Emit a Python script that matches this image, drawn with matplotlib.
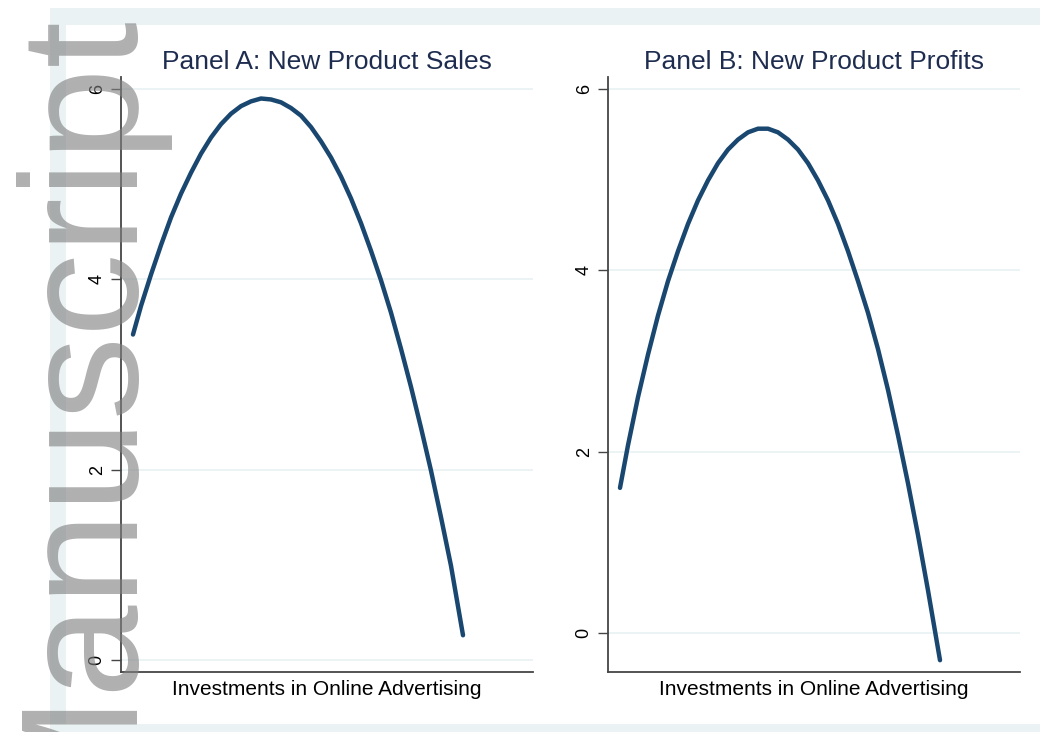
import matplotlib
matplotlib.use("Agg")
import matplotlib.pyplot as plt
from matplotlib.patches import Rectangle

# Panel A: new product sales vs. investment (x in arbitrary investment units)
sales_x = [12, 20, 30, 40, 50, 60, 70, 80, 90, 100, 110, 120, 130, 140, 150, 160, 170,
           180, 190, 200, 210, 220, 230, 240, 250, 260, 270, 280, 290, 300, 310, 320, 330, 342]
sales_y = [3.42, 3.72, 4.05, 4.36, 4.65, 4.90, 5.12, 5.32, 5.49, 5.63, 5.74, 5.82, 5.87, 5.90,
           5.89, 5.86, 5.80, 5.72, 5.60, 5.45, 5.28, 5.08, 4.85, 4.59, 4.30, 3.99, 3.65, 3.27,
           2.87, 2.44, 1.99, 1.50, 0.99, 0.26]

# Panel B: new product profits vs. investment
profit_x = [12, 20, 30, 40, 50, 60, 70, 80, 90, 100, 110, 120, 130, 140, 150, 160, 170,
            180, 190, 200, 210, 220, 230, 240, 250, 260, 270, 280, 290, 300, 310, 320, 332]
profit_y = [1.60, 2.07, 2.60, 3.07, 3.50, 3.88, 4.21, 4.51, 4.77, 4.99, 5.18, 5.33, 5.44, 5.52,
            5.56, 5.56, 5.52, 5.44, 5.33, 5.18, 4.99, 4.77, 4.51, 4.21, 3.88, 3.53, 3.13, 2.68,
            2.18, 1.65, 1.08, 0.47, -0.30]

titles = ["Panel A: New Product Sales", "Panel B: New Product Profits"]
xlabel = "Investments in Online Advertising"
yticks = [0, 2, 4, 6]

W, H = 1040, 732
plt.rcParams['font.family'] = ['Liberation Sans', 'DejaVu Sans']

fig = plt.figure(figsize=(W / 100, H / 100), dpi=100)
fig.patch.set_facecolor('white')


def px_rect(x0, y0, x1, y1):
    # pixel box (top-left origin) -> figure fraction rect
    return [x0 / W, 1 - y1 / H, (x1 - x0) / W, (y1 - y0) / H]


# Stata style outer band and white inner region
r = px_rect(50, 8, 1040, 732)
fig.patches.append(Rectangle((r[0], r[1]), r[2], r[3], transform=fig.transFigure,
                             facecolor='#EAF2F3', edgecolor='none', zorder=-10))
r = px_rect(66, 25, 1040, 724)
fig.patches.append(Rectangle((r[0], r[1]), r[2], r[3], transform=fig.transFigure,
                             facecolor='white', edgecolor='none', zorder=-9))

line_color = '#1A476F'
title_color = '#1E2D4F'
spine_color = '#454545'

panels = [
    (px_rect(121, 77, 533, 672), sales_x, sales_y, (-0.126, 6.126)),
    (px_rect(608, 77, 1020, 672), profit_x, profit_y, (-0.43, 6.13)),
]

for i, (rect, xs, ys, ylim) in enumerate(panels):
    ax = fig.add_axes(rect)
    ax.patch.set_visible(False)
    ax.plot(xs, ys, color=line_color, linewidth=3.2, solid_capstyle='round',
            solid_joinstyle='round', zorder=3)
    ax.set_xlim(0, 412)
    ax.set_ylim(*ylim)
    ax.set_yticks(yticks)
    ax.set_yticklabels([str(t) for t in yticks], rotation=90, va='center', fontsize=13)
    ax.set_xticks([])
    ax.yaxis.grid(True, color='#EAF2F3', linewidth=1.3)
    ax.set_axisbelow(True)
    ax.tick_params(axis='y', length=7, width=1.0, color=spine_color, pad=4)
    for s in ['top', 'right']:
        ax.spines[s].set_visible(False)
    for s in ['left', 'bottom']:
        ax.spines[s].set_color(spine_color)
        ax.spines[s].set_linewidth(1.3)
    ax.set_title(titles[i], fontsize=19, color=title_color, pad=6)
    ax.set_xlabel(xlabel, fontsize=15, labelpad=6)

# watermark
fig.text(124 / W, 1 - 822 / H, "Manuscript", rotation=90, rotation_mode='anchor',
         ha='left', va='baseline', fontsize=120, color='#808080', alpha=0.62, zorder=10)

fig.savefig("out.png", dpi=100)
